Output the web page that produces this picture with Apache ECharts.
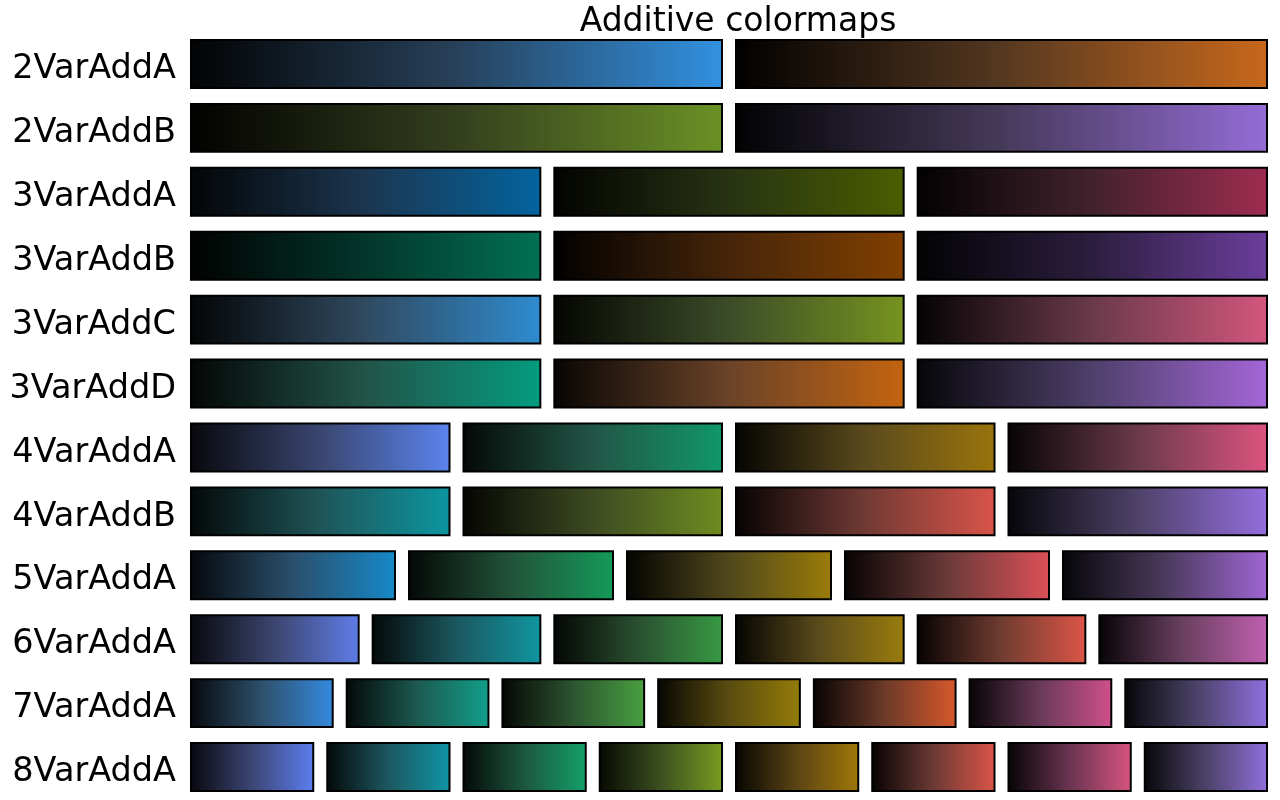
<!DOCTYPE html>
<html><head><meta charset="utf-8">
<script src="https://cdn.jsdelivr.net/npm/echarts@6/dist/echarts.min.js"></script>
<style>html,body{margin:0;padding:0;background:#fff}#c{width:1280px;height:800px}</style>
</head><body><div id="c"></div>
<script>
const titleText = 'Additive colormaps';
const rowNames = ['2VarAddA','2VarAddB','3VarAddA','3VarAddB','3VarAddC','3VarAddD','4VarAddA','4VarAddB','5VarAddA','6VarAddA','7VarAddA','8VarAddA'];
// per row: list of colormaps, each [start, mid, end]
const row2VarAddA = [['#020304','#27415a','#3191e0'],['#010000','#553820','#c8681c']];
const row2VarAddB = [['#010100','#343f1e','#6b9125'],['#020203','#463a5a','#946cd6']];
const row3VarAddA = [['#030506','#1c3650','#03649f'],['#020301','#283313','#4a5e00'],['#020102','#42222e','#9e2c50']];
const row3VarAddB = [['#010101','#03362b','#027154'],['#010000','#46250a','#814000'],['#020203','#2c1e3f','#6c3e9c']];
const row3VarAddC = [['#040506','#304a60','#2f8cd0'],['#040502','#3c4c28','#77931f'],['#040303','#6a3a4a','#d3567e']];
const row3VarAddD = [['#040606','#225448','#049c80'],['#070504','#6a4328','#c46410'],['#060608','#4e406a','#a466d8']];
const row4VarAddA = [['#08080c','#3a4670','#5b84ee'],['#040806','#225546','#11986a'],['#040402','#5a4a1c','#9a740c'],['#060404','#6a3a4a','#dc5480']];
const row4VarAddB = [['#040808','#1f5558','#0c96a0'],['#040502','#3d4a22','#6e8c20'],['#060303','#713a34','#d9544a'],['#060609','#4e4268','#946ede']];
const row5VarAddA = [['#06080c','#2a4f6c','#1689c9'],['#040806','#22533a','#149a58'],['#040402','#50481c','#9a7c08'],['#060303','#6a3a38','#dc5058'],['#060608','#4a3a5c','#a066d4']];
const row6VarAddA = [['#08080e','#3c4670','#5f7de8'],['#040808','#1c5860','#1096a0'],['#040604','#2a5030','#389a44'],['#040402','#5c4c1c','#9a7c0c'],['#060303','#703c30','#dc5648'],['#060406','#6a4060','#c060b0']];
const row7VarAddA = [['#06080c','#2e506c','#348ae0'],['#040808','#1c5a50','#12a08c'],['#040604','#2c5530','#48a040'],['#060602','#5a4c10','#947c08'],['#060303','#6c3a28','#d8582c'],['#060406','#6a3a58','#d0508c'],['#060608','#4a4268','#9070e0']];
const row8VarAddA = [['#08080e','#3c4674','#5c7ef0'],['#040808','#1c5860','#1096a8'],['#040806','#1c5840','#14a06a'],['#060802','#3c5020','#789c20'],['#060602','#5c4414','#a07808'],['#060303','#6c3a34','#dc5448'],['#060406','#6a3450','#d85480'],['#060608','#4c4268','#9070dc']];
const rowMaps = [row2VarAddA,row2VarAddB,row3VarAddA,row3VarAddB,row3VarAddC,row3VarAddD,row4VarAddA,row4VarAddB,row5VarAddA,row6VarAddA,row7VarAddA,row8VarAddA];

const data = [];
rowMaps.forEach((maps, r) => {
  maps.forEach((m, i) => {
    data.push({value: [i, r, maps.length], stops: m});
  });
});

const GAP = 14;
const chart = echarts.init(document.getElementById('c'), null, {renderer: 'canvas'});
chart.setOption({
  animation: false,
  backgroundColor: '#fff',
  title: {
    text: titleText, left: 733, top: 1, textAlign: 'center',
    textStyle: {fontFamily: 'DejaVu Sans', fontSize: 33, fontWeight: 'normal', color: '#000'}
  },
  grid: {left: 191, right: 13, top: 32, bottom: 1},
  xAxis: {type: 'value', min: 0, max: 1, show: false},
  yAxis: {
    type: 'category', data: rowNames, inverse: true,
    axisLine: {show: false}, axisTick: {show: false}, splitLine: {show: false},
    axisLabel: {
      margin: 15,
      formatter: function (v) { return '{a|' + v + '}'; },
      rich: {a: {fontFamily: 'DejaVu Sans', fontSize: 33.5, color: '#000', padding: [11, 0, 0, 0]}}
    }
  },
  series: [{
    type: 'custom',
    data: data,
    renderItem: function (params, api) {
      const i = api.value(0), r = api.value(1), n = api.value(2);
      const p0 = api.coord([0, r]);
      const p1 = api.coord([1, r]);
      const band = api.size([0, 1])[1];
      const h = band * 0.75;
      const W = p1[0] - p0[0];
      const w = (W - GAP * (n - 1)) / n;
      const x = p0[0] + i * (w + GAP);
      const stops = data[params.dataIndex].stops;
      return {
        type: 'rect',
        shape: {x: x, y: p0[1] - h / 2, width: w, height: h},
        style: {
          fill: {type: 'linear', x: 0, y: 0, x2: 1, y2: 0, colorStops: [
            {offset: 0, color: stops[0]}, {offset: 0.5, color: stops[1]}, {offset: 1, color: stops[2]}
          ]},
          stroke: '#000', lineWidth: 2
        }
      };
    }
  }]
});
</script></body></html>
